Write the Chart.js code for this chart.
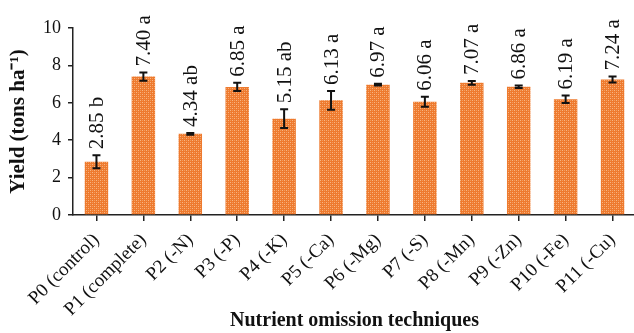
<!DOCTYPE html>
<html lang="en">
<head>
  <meta charset="UTF-8">
  <title>Nutrient omission yield</title>
  <script src="https://cdn.jsdelivr.net/npm/chart.js"></script>
  <style>
    html, body {
      margin: 0;
      padding: 0;
      background: #fff;
      overflow: hidden;
    }
    .chart-box {
      width: 640px;
      height: 333px;
    }
  </style>
</head>
<body>
  <div class="chart-box">
    <canvas id="yieldChart"></canvas>
  </div>

  <script>
    // data
    const treatments = ["P0 (control)", "P1 (complete)", "P2 (-N)", "P3 (-P)", "P4 (-K)", "P5 (-Ca)",
                        "P6 (-Mg)", "P7 (-S)", "P8 (-Mn)", "P9 (-Zn)", "P10 (-Fe)", "P11 (-Cu)"];
    const yieldValues = [2.85, 7.40, 4.34, 6.85, 5.15, 6.13, 6.97, 6.06, 7.07, 6.86, 6.19, 7.24];
    const yieldErrors = [0.35, 0.22, 0.05, 0.22, 0.5, 0.5, 0.05, 0.27, 0.1, 0.07, 0.2, 0.16];
    const letters = ["b", "a", "ab", "a", "ab", "a", "a", "a", "a", "a", "a", "a"];
    const yTicks = [0, 2, 4, 6, 8, 10];

    const serif = "'Liberation Serif', 'Times New Roman', serif";

    // dotted orange texture like the original bars
    function makePattern() {
      const c = document.createElement("canvas");
      c.width = 4;
      c.height = 4;
      const g = c.getContext("2d");
      g.fillStyle = "#ee7a2e";
      g.fillRect(0, 0, 4, 4);
      g.fillStyle = "#f8b683";
      g.fillRect(0, 0, 1, 1);
      g.fillRect(2, 2, 1, 1);
      g.fillStyle = "#f39a5c";
      g.fillRect(2, 0, 1, 1);
      g.fillRect(0, 2, 1, 1);
      return g.createPattern(c, "repeat");
    }

    // error bars + rotated value labels
    const barExtras = {
      id: "barExtras",
      afterDatasetsDraw(chart) {
        const ctx = chart.ctx;
        const yScale = chart.scales.y;
        const bars = chart.getDatasetMeta(0).data;
        ctx.save();
        bars.forEach((bar, i) => {
          const top = yScale.getPixelForValue(yieldValues[i] + yieldErrors[i]);
          const bottom = yScale.getPixelForValue(yieldValues[i] - yieldErrors[i]);
          ctx.strokeStyle = "#111";
          ctx.lineWidth = 2;
          ctx.beginPath();
          ctx.moveTo(bar.x, top);
          ctx.lineTo(bar.x, bottom);
          ctx.moveTo(bar.x - 4, top);
          ctx.lineTo(bar.x + 4, top);
          ctx.moveTo(bar.x - 4, bottom);
          ctx.lineTo(bar.x + 4, bottom);
          ctx.stroke();

          ctx.save();
          ctx.translate(bar.x, top - 6);
          ctx.rotate(-Math.PI / 2);
          ctx.fillStyle = "#111";
          ctx.font = "21px " + serif;
          ctx.textAlign = "left";
          ctx.textBaseline = "middle";
          ctx.fillText(yieldValues[i].toFixed(2) + " " + letters[i], 0, 1);
          ctx.restore();
        });
        ctx.restore();
      }
    };

    const ctx = document.getElementById("yieldChart").getContext("2d");

    new Chart(ctx, {
      type: "bar",
      data: {
        labels: treatments,
        datasets: [{
          label: "Yield",
          data: yieldValues,
          backgroundColor: makePattern(),
          borderWidth: 0,
          barPercentage: 0.5,
          categoryPercentage: 1.0
        }]
      },
      options: {
        responsive: true,
        maintainAspectRatio: false,
        animation: false,
        layout: {
          padding: { top: 28, right: 4, left: 0, bottom: 0 }
        },
        plugins: {
          legend: { display: false },
          tooltip: { enabled: false }
        },
        scales: {
          x: {
            grid: {
              display: true,
              drawOnChartArea: false,
              offset: false,
              tickLength: 6,
              color: "#222",
              lineWidth: 1.5
            },
            border: { color: "#222", width: 1.5 },
            ticks: {
              color: "#111",
              font: { family: serif, size: 19 },
              minRotation: 45,
              maxRotation: 45,
              autoSkip: false,
              padding: 8
            },
            title: {
              display: true,
              text: "Nutrient omission techniques",
              color: "#111",
              font: { family: serif, size: 20, weight: "bold" },
              padding: { top: 0, bottom: 0 }
            },
            afterFit(scale) { scale.height = 118; }
          },
          y: {
            min: 0,
            max: 10,
            afterBuildTicks(scale) {
              scale.ticks = yTicks.map(v => ({ value: v }));
            },
            grid: {
              display: true,
              drawOnChartArea: false,
              tickLength: 5,
              color: "#222",
              lineWidth: 1.5
            },
            border: { color: "#222", width: 1.5 },
            ticks: {
              color: "#111",
              font: { family: serif, size: 18 },
              padding: 7
            },
            title: {
              display: true,
              text: "Yield (tons ha\u207B\u00B9)",
              color: "#111",
              font: { family: serif, size: 21, weight: "bold" },
              padding: { top: 6, bottom: 2 }
            },
            afterFit(scale) { scale.width = 73; }
          }
        }
      },
      plugins: [barExtras]
    });
  </script>
</body>
</html>
